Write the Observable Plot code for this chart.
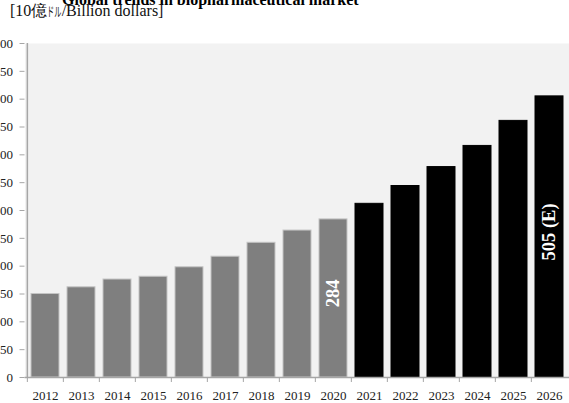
<!DOCTYPE html>
<html>
<head>
<meta charset="utf-8">
<script src="https://cdn.jsdelivr.net/npm/d3@7"></script>
<script src="https://cdn.jsdelivr.net/npm/@observablehq/plot@0.6"></script>
<style>
  html, body { margin: 0; padding: 0; background: #fff; }
  #wrap { position: relative; width: 569px; height: 403px; overflow: hidden; }
  #title { position: absolute; left: 62px; top: -9px; font-family: "Liberation Serif", "Times New Roman", Tinos, serif; font-weight: bold; font-size: 16px; line-height: 17px; color: #000; white-space: nowrap; }
  #subtitle { position: absolute; left: 10px; top: 2px; font-family: "Liberation Serif", "Times New Roman", Tinos, serif; font-size: 16px; line-height: 17px; color: #111; white-space: nowrap; }
  #subtitle .nar { display: inline-block; transform: scaleX(0.55); transform-origin: left center; font-family: "Noto Sans CJK JP", sans-serif; font-size: 13px; margin-right: -11.7px; }
  #spacer { height: 20px; }
  svg text { font-family: "Liberation Serif", "Times New Roman", Tinos, serif; }
</style>
</head>
<body>
<div id="wrap">
  <div id="spacer"></div>
  <div id="chart"></div>
  <div id="title">Global trends in biopharmaceutical market</div>
  <div id="subtitle">[10億<span class="nar">ドル</span>/Billion dollars]</div>
</div>
<script>
const years = ["2012","2013","2014","2015","2016","2017","2018","2019","2020","2021","2022","2023","2024","2025","2026"];
const values = [150, 162, 176, 181, 198, 217, 242, 264, 284, 312, 344, 378, 416, 461, 505];
const kinds = ["actual","actual","actual","actual","actual","actual","actual","actual","actual","forecast","forecast","forecast","forecast","forecast","forecast"];
const barLabels = {"2020": "284", "2026": "505 (E)"};
const yTicks = [0, 50, 100, 150, 200, 250, 300, 350, 400, 450, 500, 550, 600];

const data = years.map((y, i) => ({year: y, value: values[i], kind: kinds[i]}));
const labelData = data.filter(d => barLabels[d.year]).map(d => ({...d, label: barLabels[d.year]}));

const W = 569, H = 383, mL = 24.5, mR = 0, mT = 23, mB = 26;
const pIn = 0.23, pOut = 0.115;
const step = (W - mL - mR) / (years.length - pIn + 2 * pOut);
const axisColor = "#a6a6a6";
const font = "'Liberation Serif', 'Times New Roman', Tinos, serif";

const plot = Plot.plot({
  width: W,
  height: H,
  marginLeft: mL,
  marginRight: mR,
  marginTop: mT,
  marginBottom: mB,
  style: {fontFamily: font, background: "transparent", color: "#222"},
  x: {domain: years, paddingInner: pIn, paddingOuter: pOut, label: null},
  y: {domain: [0, 600], label: null},
  marks: [
    Plot.frame({fill: "#f2f2f2", stroke: "none"}),
    Plot.barY(data, {
      x: "year", y: "value",
      fill: d => d.kind === "actual" ? "#7f7f7f" : "#000000",
      stroke: d => d.kind === "actual" ? "#c4c4c4" : "#000000",
      strokeWidth: 1
    }),
    Plot.text(labelData, {
      x: "year", y: d => d.value / 2, text: "label",
      rotate: -90, fill: "white", fontSize: 18.5, fontWeight: "bold",
      fontFamily: font, textAnchor: "middle", dy: -5
    }),
    Plot.ruleY([0], {stroke: axisColor, strokeWidth: 1.5}),
    Plot.ruleX([years[0]], {y1: 0, y2: 600, dx: -step / 2, stroke: axisColor, strokeWidth: 1.5}),
    Plot.axisY({ticks: yTicks, tickSize: 5, tickPadding: 7, fontSize: 13, stroke: axisColor, fill: "#222", label: null, fontFamily: font}),
    Plot.axisX({tickSize: 5, tickFormat: () => "", dx: -step / 2, stroke: axisColor, label: null}),
    Plot.axisX({tickSize: 0, tickPadding: 13, fontSize: 13, fill: "#222", label: null, fontFamily: font})
  ]
});
document.getElementById("chart").appendChild(plot);
</script>
</body>
</html>
